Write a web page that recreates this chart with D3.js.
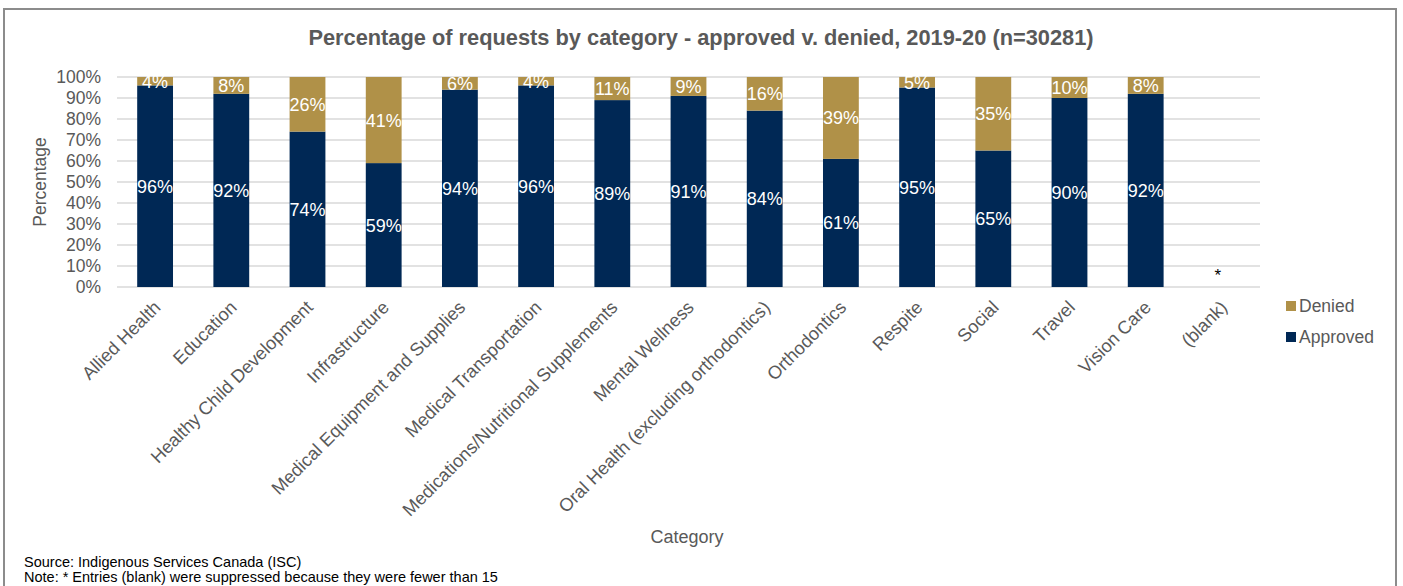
<!DOCTYPE html>
<html><head><meta charset="utf-8">
<script src="https://cdn.jsdelivr.net/npm/d3@7"></script>
<style>
html,body{margin:0;padding:0;background:#fff;}
svg{display:block;font-family:"Liberation Sans",Arial,sans-serif;}
</style></head>
<body>
<svg id="chart" width="1403" height="586"></svg>
<script>
const categories = ["Allied Health","Education","Healthy Child Development","Infrastructure","Medical Equipment and Supplies","Medical Transportation","Medications/Nutritional Supplements","Mental Wellness","Oral Health (excluding orthodontics)","Orthodontics","Respite","Social","Travel","Vision Care","(blank)"];
const approved = [96,92,74,59,94,96,89,91,84,61,95,65,90,92,null];
const denied   = [4,8,26,41,6,4,11,9,16,39,5,35,10,8,null];
const yTicks = [0,10,20,30,40,50,60,70,80,90,100];
const seriesNames = ["Denied","Approved"];
const colors = {Approved:"#002855", Denied:"#b09148"};
const title = "Percentage of requests by category - approved v. denied, 2019-20 (n=30281)";
const notes = ["Source: Indigenous Services Canada (ISC)","Note: * Entries (blank) were suppressed because they were fewer than 15"];

const svg = d3.select("#chart");
const m = {left:117, right:1260, top:77, bottom:287};
const textCol = "#595959";

// frame
svg.append("rect").attr("x",4).attr("y",9).attr("width",1392).attr("height",600)
  .attr("fill","#fff").attr("stroke","#8c8c8c").attr("stroke-width",2);

const x = d3.scaleBand().domain(categories).range([m.left,m.right]).paddingInner(0.53).paddingOuter(0.265);
const y = d3.scaleLinear().domain([0,100]).range([m.bottom,m.top]);

// gridlines
svg.append("g").selectAll("line").data(yTicks).join("line")
  .attr("x1",m.left).attr("x2",m.right)
  .attr("y1",d=>y(d)).attr("y2",d=>y(d))
  .attr("stroke","#d9d9d9").attr("stroke-width",1.5);

// y axis labels
const yAxis = d3.axisLeft(y).tickValues(yTicks).tickFormat(d=>d+"%").tickSize(0).tickPadding(16);
const yg = svg.append("g").attr("transform",`translate(${m.left},0)`).call(yAxis);
yg.select(".domain").remove();
yg.selectAll("text").attr("fill",textCol).style("font-size","17.5px").attr("font-family","Liberation Sans, Arial, sans-serif");

// stacked data
const rows = categories.map((c,i)=>({cat:c, Approved:approved[i], Denied:denied[i]}));
const valid = rows.filter(r=>r.Approved!=null);
const stack = d3.stack().keys(["Approved","Denied"]);
const stacked = stack(valid);

const gBars = svg.append("g");
stacked.forEach(layer=>{
  gBars.append("g").attr("fill",colors[layer.key]).selectAll("rect").data(layer).join("rect")
    .attr("x",d=>x(d.data.cat)).attr("width",x.bandwidth())
    .attr("y",d=>y(d[1])).attr("height",d=>y(d[0])-y(d[1]));
});
// labels
stacked.forEach(layer=>{
  gBars.append("g").selectAll("text").data(layer).join("text")
    .attr("x",d=>x(d.data.cat)+x.bandwidth()/2)
    .attr("y",d=>(y(d[0])+y(d[1]))/2)
    .attr("dy","0.36em")
    .attr("text-anchor","middle")
    .attr("fill","#fff")
    .style("font-size","18px")
    .text(d=>(d[1]-d[0])+"%");
});
// suppressed marker
rows.filter(r=>r.Approved==null).forEach(r=>{
  svg.append("text").attr("x",x(r.cat)+x.bandwidth()/2-4).attr("y",y(4)+2)
    .attr("text-anchor","middle").attr("fill","#000").style("font-size","17px").text("*");
});

// x labels
const xg = svg.append("g");
categories.forEach(c=>{
  const cx = x(c)+x.bandwidth()/2;
  xg.append("text")
    .attr("transform",`translate(${cx+2},${m.bottom+17}) rotate(-45)`)
    .attr("text-anchor","end").attr("dy","0.35em")
    .attr("fill",textCol).style("font-size","18.2px").text(c);
});

// title
svg.append("text").attr("x",701).attr("y",45).attr("text-anchor","middle")
  .attr("fill",textCol).style("font-size","21.8px").style("font-weight","bold").text(title);

// axis titles
svg.append("text").attr("transform","translate(46,182) rotate(-90)").attr("text-anchor","middle")
  .attr("fill",textCol).style("font-size","17.5px").text("Percentage");
svg.append("text").attr("x",687).attr("y",543).attr("text-anchor","middle")
  .attr("fill",textCol).style("font-size","18px").text("Category");

// legend
seriesNames.forEach((s,i)=>{
  const ly = 301 + i*31;
  svg.append("rect").attr("x",1286).attr("y",ly).attr("width",10).attr("height",10).attr("fill",colors[s]);
  svg.append("text").attr("x",1299).attr("y",ly+11).attr("fill",textCol).style("font-size","17.5px").text(s);
});

// notes
notes.forEach((t,i)=>{
  svg.append("text").attr("x",24).attr("y",567+i*15).attr("fill","#000").style("font-size","14.5px").text(t);
});
</script>
</body></html>
